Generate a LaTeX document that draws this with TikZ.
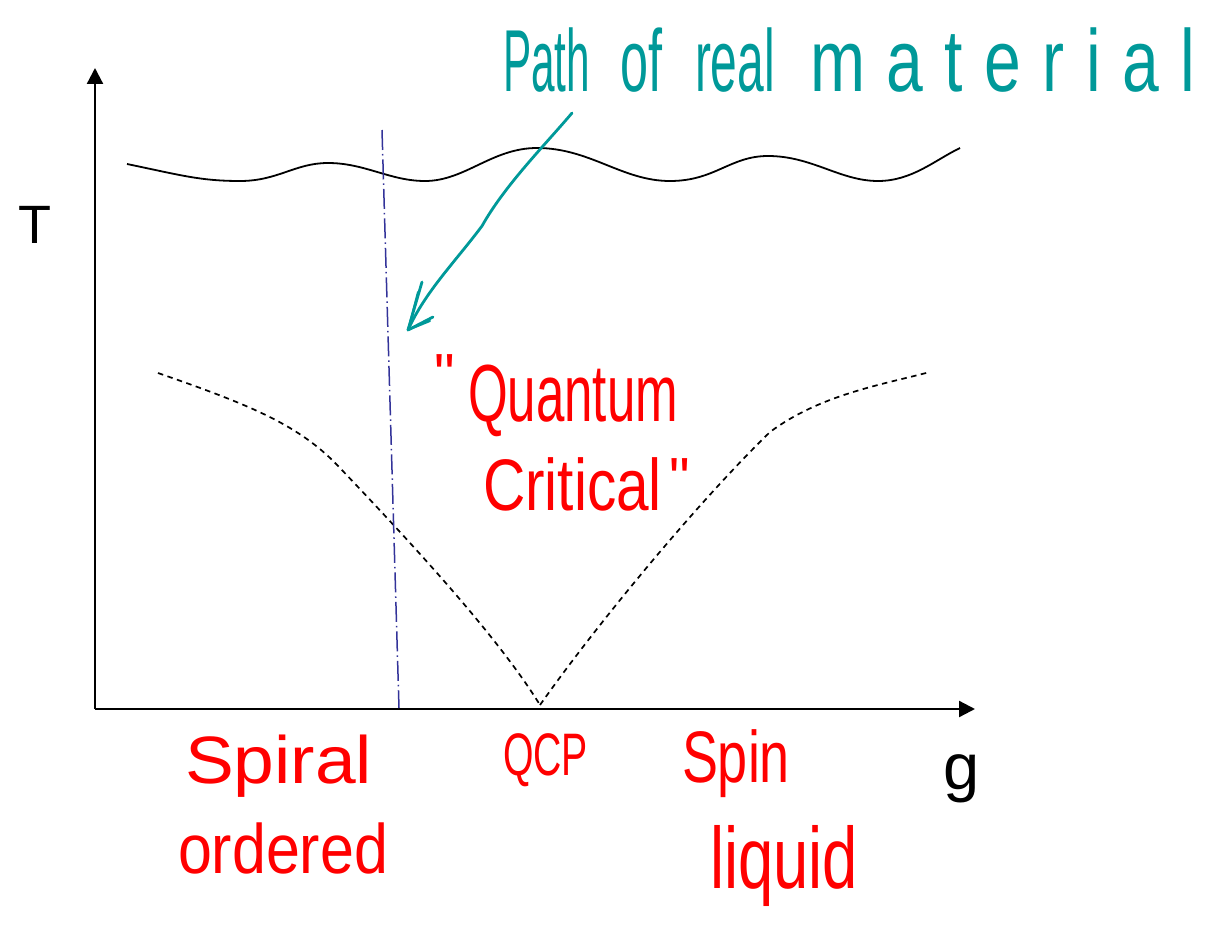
\documentclass[tikz,border=0pt]{standalone}
\usepackage{fontspec}
\setmainfont{Liberation Sans}
\newfontfamily\quotefont{Liberation Sans}
\usetikzlibrary{arrows.meta}
\definecolor{tealc}{RGB}{0,153,153}
\definecolor{dashblue}{RGB}{51,51,153}
\newcommand{\hw}[3]{\resizebox{#1}{\height}{\fontsize{#2}{#2}\selectfont #3}}
\newcommand{\sq}[1]{\scalebox{0.7}[1]{#1}\hspace{20pt}}
\begin{document}
\begin{tikzpicture}[x=1pt,y=-1pt,
  axis/.style={line width=2.3pt,-{Triangle[length=16pt,width=16pt]}},
  word/.style={anchor=base west,inner sep=0pt,outer sep=0pt},
  redw/.style={word,text=red},
  tealw/.style={word,text=tealc},
  blackw/.style={word,text=black},
  quotemark/.style={redw,font=\quotefont\fontsize{58pt}{58pt}\selectfont},
  wave/.style={line width=1.8pt,black},
  crossover/.style={line width=1.7pt,black,dash pattern=on 5.5pt off 4.5pt},
  realpath/.style={line width=1.5pt,dashblue,dash pattern=on 20pt off 4pt on 1.5pt off 4pt},
  pointer/.style={line width=2.8pt,tealc,line cap=round,line join=round}]
\useasboundingbox (0,0) rectangle (1208,934);
% axes
\coordinate (O) at (95,709);
\coordinate (ytip) at (95,68);
\coordinate (xtip) at (975,709);
\draw[axis] (O) -- (ytip);
\draw[axis] (O) -- (xtip);
% axis labels
\node[blackw,font=\fontsize{54pt}{54pt}\selectfont] (T) at (19,243) {T};
\node[blackw,font=\fontsize{65pt}{65pt}\selectfont] (g) at (943,789) {g};
% wavy line
\coordinate (w0) at (127,164);
\coordinate (w1) at (960,148);
\draw[wave] (w0) .. controls (180,175) and (200,181) .. (240,181)
  .. controls (278,181) and (295,163) .. (328,163)
  .. controls (365,163) and (390,181) .. (425,181)
  .. controls (465,181) and (492,148) .. (537,148)
  .. controls (590,148) and (622,181) .. (670,181)
  .. controls (715,181) and (730,156) .. (768,156)
  .. controls (812,156) and (840,181) .. (878,181)
  .. controls (912,181) and (935,160) .. (w1);
% crossover dashed curves
\coordinate (cl) at (158,373);
\coordinate (qcp) at (540,705);
\coordinate (cr) at (930,372);
\draw[crossover] (cl) .. controls (250,405) and (300,425) .. (340,468)
  .. controls (420,552) and (500,640) .. (qcp);
\draw[crossover] (qcp) .. controls (600,620) and (700,500) .. (770,432)
  .. controls (820,395) and (880,385) .. (cr);
% path of real material (dash-dot)
\coordinate (p0) at (382,130);
\coordinate (p1) at (399,708);
\draw[realpath] (p0) -- (p1);
% teal pointer
\coordinate (a0) at (572,113);
\coordinate (atip) at (408,330);
\coordinate (ab1) at (422,282);
\coordinate (ab2) at (433,317);
\coordinate (ab3) at (418,292);
\coordinate (ab4) at (430,321);
\draw[pointer] (a0) .. controls (545,145) and (505,185) .. (482,226)
  .. controls (455,262) and (425,292) .. (atip);
\draw[pointer] (ab1) -- (atip) -- (ab2);
\draw[pointer,line width=2pt] (ab3) -- (atip) -- (ab4);
% teal title
\node[tealw] (path) at (503,92) {\hw{87pt}{88pt}{Path}};
\node[tealw] (of) at (620,92) {\hw{42pt}{88pt}{of}};
\node[tealw] (real) at (695,92) {\hw{80pt}{88pt}{real}};
\node[tealw] (material) at (810,92) {\hw{385pt}{88pt}{\sq{m}\sq{a}\sq{t}\sq{e}\sq{r}\sq{i}\sq{a}\scalebox{0.7}[1]{l}}};
% red labels
\node[quotemark] (oq) at (434,394) {"};
\node[redw] (quantum) at (468,421) {\hw{210pt}{81pt}{Quantum}};
\node[redw] (critical) at (483,510) {\hw{179pt}{73pt}{Critical}};
\node[quotemark] (cq) at (669,498) {"};
\node[redw] (spiral) at (185,783) {\hw{187pt}{67pt}{Spiral}};
\node[redw] (ordered) at (178,873) {\hw{210pt}{70pt}{ordered}};
\node[redw] (qcplabel) at (503,775) {\hw{85pt}{60pt}{QCP}};
\node[redw] (spin) at (682,782) {\hw{108pt}{73pt}{Spin}};
\node[redw] (liquid) at (710,888) {\hw{148pt}{87pt}{liquid}};
\end{tikzpicture}
\end{document}
